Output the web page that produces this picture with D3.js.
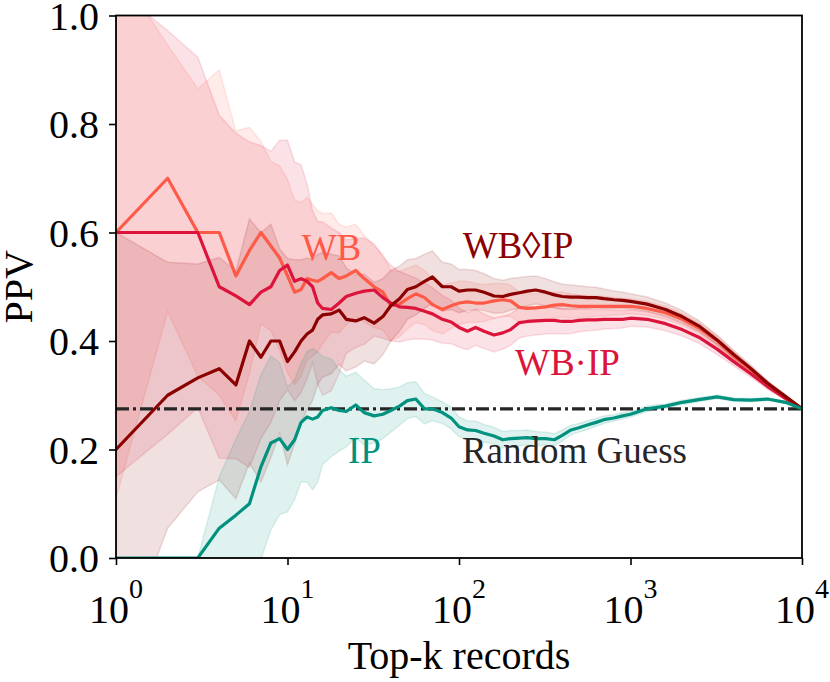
<!DOCTYPE html>
<html><head><meta charset="utf-8">
<script src="https://cdn.jsdelivr.net/npm/d3@7"></script>
<style>body{margin:0;background:#fff}svg{display:block}text{font-family:"Liberation Serif","Times New Roman",Tinos,Times,serif}</style>
</head><body>
<svg id="c" width="830" height="682"></svg>
<script>
// Top-k values (x axis, log scale)
const topK = [1,2,3,4,5,6,7,8,9,10,11,12,13,14,15,16,18,20,22,25,28,32,36,40,45,50,56,63,70,80,90,100,112,125,140,160,180,200,225,250,280,320,360,400,450,500,560,630,700,800,900,1000,1250,1600,2000,2500,3200,4000,5000,6300,8000,10000];

// WB mean PPV and std
const wbMean = [0.6,0.7,0.6,0.6,0.52,0.567,0.6,0.575,0.553,0.52,0.49,0.495,0.515,0.512,0.51,0.515,0.526,0.515,0.52,0.53,0.515,0.5,0.49,0.465,0.468,0.478,0.487,0.48,0.467,0.458,0.465,0.47,0.472,0.47,0.47,0.474,0.476,0.474,0.462,0.46,0.461,0.463,0.466,0.467,0.465,0.464,0.464,0.464,0.464,0.464,0.464,0.464,0.46,0.452,0.44,0.424,0.4,0.372,0.348,0.321,0.297,0.275];
const wbStd = [0.49,0.246,0.265,0.3,0.267,0.227,0.168,0.156,0.17,0.178,0.17,0.16,0.15,0.14,0.13,0.12,0.11,0.1,0.09,0.085,0.08,0.075,0.07,0.065,0.06,0.056,0.053,0.05,0.048,0.045,0.042,0.04,0.038,0.036,0.034,0.032,0.03,0.029,0.028,0.027,0.026,0.025,0.024,0.023,0.022,0.021,0.02,0.019,0.018,0.016,0.015,0.014,0.013,0.012,0.011,0.01,0.009,0.008,0.006,0.005,0.003,0];

// WB·IP
const wbDotIpMean = [0.6,0.6,0.6,0.5,0.483,0.467,0.49,0.5,0.53,0.54,0.51,0.515,0.51,0.5,0.47,0.46,0.458,0.47,0.482,0.488,0.492,0.494,0.48,0.47,0.463,0.462,0.46,0.455,0.45,0.44,0.435,0.425,0.418,0.425,0.418,0.411,0.415,0.421,0.434,0.436,0.437,0.438,0.438,0.436,0.436,0.438,0.439,0.439,0.44,0.44,0.44,0.442,0.44,0.432,0.421,0.407,0.385,0.362,0.34,0.316,0.294,0.275];
const wbDotIpStd = [0.45,0.372,0.323,0.316,0.3,0.3,0.27,0.25,0.24,0.23,0.22,0.21,0.18,0.14,0.15,0.16,0.15,0.13,0.105,0.1,0.098,0.085,0.075,0.07,0.065,0.06,0.056,0.052,0.048,0.044,0.04,0.036,0.034,0.033,0.032,0.031,0.03,0.029,0.028,0.027,0.026,0.025,0.024,0.023,0.022,0.021,0.02,0.019,0.018,0.017,0.016,0.015,0.014,0.013,0.012,0.011,0.01,0.008,0.006,0.005,0.003,0];

// WB◊IP
const wbDiaIpMean = [0.2,0.3,0.332,0.349,0.319,0.4,0.37,0.4,0.4,0.362,0.38,0.4,0.413,0.42,0.44,0.448,0.45,0.457,0.44,0.437,0.443,0.433,0.445,0.465,0.478,0.495,0.5,0.51,0.518,0.5,0.5,0.492,0.494,0.494,0.49,0.483,0.482,0.486,0.489,0.492,0.494,0.49,0.485,0.482,0.481,0.481,0.48,0.48,0.478,0.476,0.475,0.473,0.468,0.458,0.445,0.428,0.402,0.375,0.35,0.322,0.298,0.275];
const wbDiaIpStd = [0.4,0.245,0.21,0.205,0.21,0.225,0.23,0.215,0.17,0.19,0.17,0.15,0.14,0.13,0.12,0.115,0.11,0.1,0.095,0.085,0.08,0.075,0.07,0.065,0.06,0.055,0.052,0.05,0.048,0.045,0.042,0.04,0.038,0.036,0.034,0.032,0.03,0.029,0.028,0.027,0.026,0.025,0.024,0.023,0.022,0.021,0.02,0.019,0.018,0.016,0.015,0.014,0.013,0.012,0.011,0.01,0.009,0.008,0.006,0.005,0.003,0];

// IP
const ipMean = [0,0,0,0.055,0.079,0.1,0.168,0.212,0.22,0.2,0.218,0.25,0.26,0.256,0.26,0.272,0.277,0.272,0.27,0.282,0.268,0.262,0.265,0.272,0.28,0.29,0.293,0.275,0.275,0.268,0.258,0.242,0.236,0.235,0.23,0.225,0.218,0.22,0.221,0.222,0.22,0.22,0.218,0.226,0.236,0.24,0.245,0.25,0.255,0.258,0.262,0.265,0.275,0.28,0.287,0.292,0.297,0.292,0.291,0.293,0.287,0.275];
const ipStd = [0,0,0,0.095,0.14,0.17,0.17,0.16,0.14,0.115,0.11,0.11,0.12,0.13,0.12,0.1,0.09,0.075,0.065,0.06,0.06,0.05,0.045,0.04,0.035,0.033,0.032,0.028,0.022,0.02,0.02,0.018,0.017,0.017,0.016,0.016,0.015,0.015,0.014,0.014,0.013,0.012,0.011,0.01,0.009,0.008,0.008,0.007,0.007,0.006,0.006,0.005,0.005,0.004,0.004,0.004,0.003,0.003,0.003,0.002,0.002,0];

const randomGuess = 0.275;
const xTicks = [1,10,100,1000,10000];
const yTicks = [0,0.2,0.4,0.6,0.8,1.0];

const series = [
  {name:"WB", mean:wbMean, std:wbStd, color:"#ff5a48"},
  {name:"WB·IP", mean:wbDotIpMean, std:wbDotIpStd, color:"#dc143c"},
  {name:"WB◊IP", mean:wbDiaIpMean, std:wbDiaIpStd, color:"#8b0000"},
  {name:"IP", mean:ipMean, std:ipStd, color:"#00917f"}
];
const labels = [
  {text:"WB", x:12.1, y:0.55, color:"#ff5a48"},
  {text:"WB◊IP", x:105, y:0.553, color:"#8b0000"},
  {text:"WB·IP", x:212, y:0.3376, color:"#dc143c"},
  {text:"IP", x:22.5, y:0.175, color:"#00917f"},
  {text:"Random Guess", x:104, y:0.175, color:"#262626"}
];

const svg = d3.select("#c");
const L=116, R=802, T=15.5, B=558;
const x = d3.scaleLog().domain([1,1e4]).range([L,R]);
const y = d3.scaleLinear().domain([0,1]).range([B,T]);

svg.append("defs").append("clipPath").attr("id","clip")
  .append("rect").attr("x",L).attr("y",T).attr("width",R-L).attr("height",B-T);
const plot = svg.append("g").attr("clip-path","url(#clip)");

series.forEach(s=>{
  const rows = topK.map((k,i)=>({k, m:s.mean[i], sd:s.std[i]}));
  const area = d3.area().x(d=>x(d.k)).y0(d=>y(d.m-d.sd)).y1(d=>y(d.m+d.sd));
  plot.append("path").datum(rows).attr("d",area)
    .attr("fill",s.color).attr("fill-opacity",0.12)
    .attr("stroke",s.color).attr("stroke-opacity",0.13).attr("stroke-width",1.5);
});

plot.append("line").attr("x1",x(1)).attr("x2",x(1e4))
  .attr("y1",y(randomGuess)).attr("y2",y(randomGuess))
  .attr("stroke","#262626").attr("stroke-width",3.2).attr("stroke-dasharray","13,4,3,4");

series.forEach(s=>{
  const rows = topK.map((k,i)=>({k, m:s.mean[i]}));
  const line = d3.line().x(d=>x(d.k)).y(d=>y(d.m));
  plot.append("path").datum(rows).attr("d",line)
    .attr("fill","none").attr("stroke",s.color).attr("stroke-width",3.2)
    .attr("stroke-linejoin","round");
});

// axes
const xa = svg.append("g").attr("transform",`translate(0,${B})`)
  .call(d3.axisBottom(x).tickValues(xTicks).tickFormat("").tickSize(7).tickSizeOuter(0));
const ya = svg.append("g").attr("transform",`translate(${L},0)`)
  .call(d3.axisLeft(y).tickValues(yTicks).tickFormat(d3.format(".1f")).tickSize(7).tickPadding(10).tickSizeOuter(0));
[xa,ya].forEach(a=>{
  a.select(".domain").remove();
  a.selectAll(".tick line").attr("stroke","#000").attr("stroke-width",1.6);
});
ya.selectAll(".tick text").attr("font-family",null).attr("font-size",40).attr("fill","#000").attr("dy","0.34em");

xTicks.forEach(v=>{
  const t = svg.append("text").attr("x",x(v)).attr("y",623).attr("text-anchor","middle")
    .attr("font-size",40).attr("fill","#000");
  t.append("tspan").text("10");
  t.append("tspan").attr("dy",-25).attr("font-size",28).text(String(Math.round(Math.log10(v))));
});

svg.append("rect").attr("x",L).attr("y",T).attr("width",R-L).attr("height",B-T)
  .attr("fill","none").attr("stroke","#000").attr("stroke-width",1.8);

svg.append("text").attr("x",(L+R)/2).attr("y",669).attr("text-anchor","middle")
  .attr("font-size",40).attr("fill","#000").text("Top-k records");
svg.append("text").attr("transform",`translate(32,${(T+B)/2}) rotate(-90)`).attr("text-anchor","middle")
  .attr("font-size",40).attr("fill","#000").text("PPV");

labels.forEach(l=>{
  svg.append("text").attr("x",x(l.x)).attr("y",y(l.y))
    .attr("font-size",37).attr("fill",l.color).text(l.text);
});
</script>
</body></html>
